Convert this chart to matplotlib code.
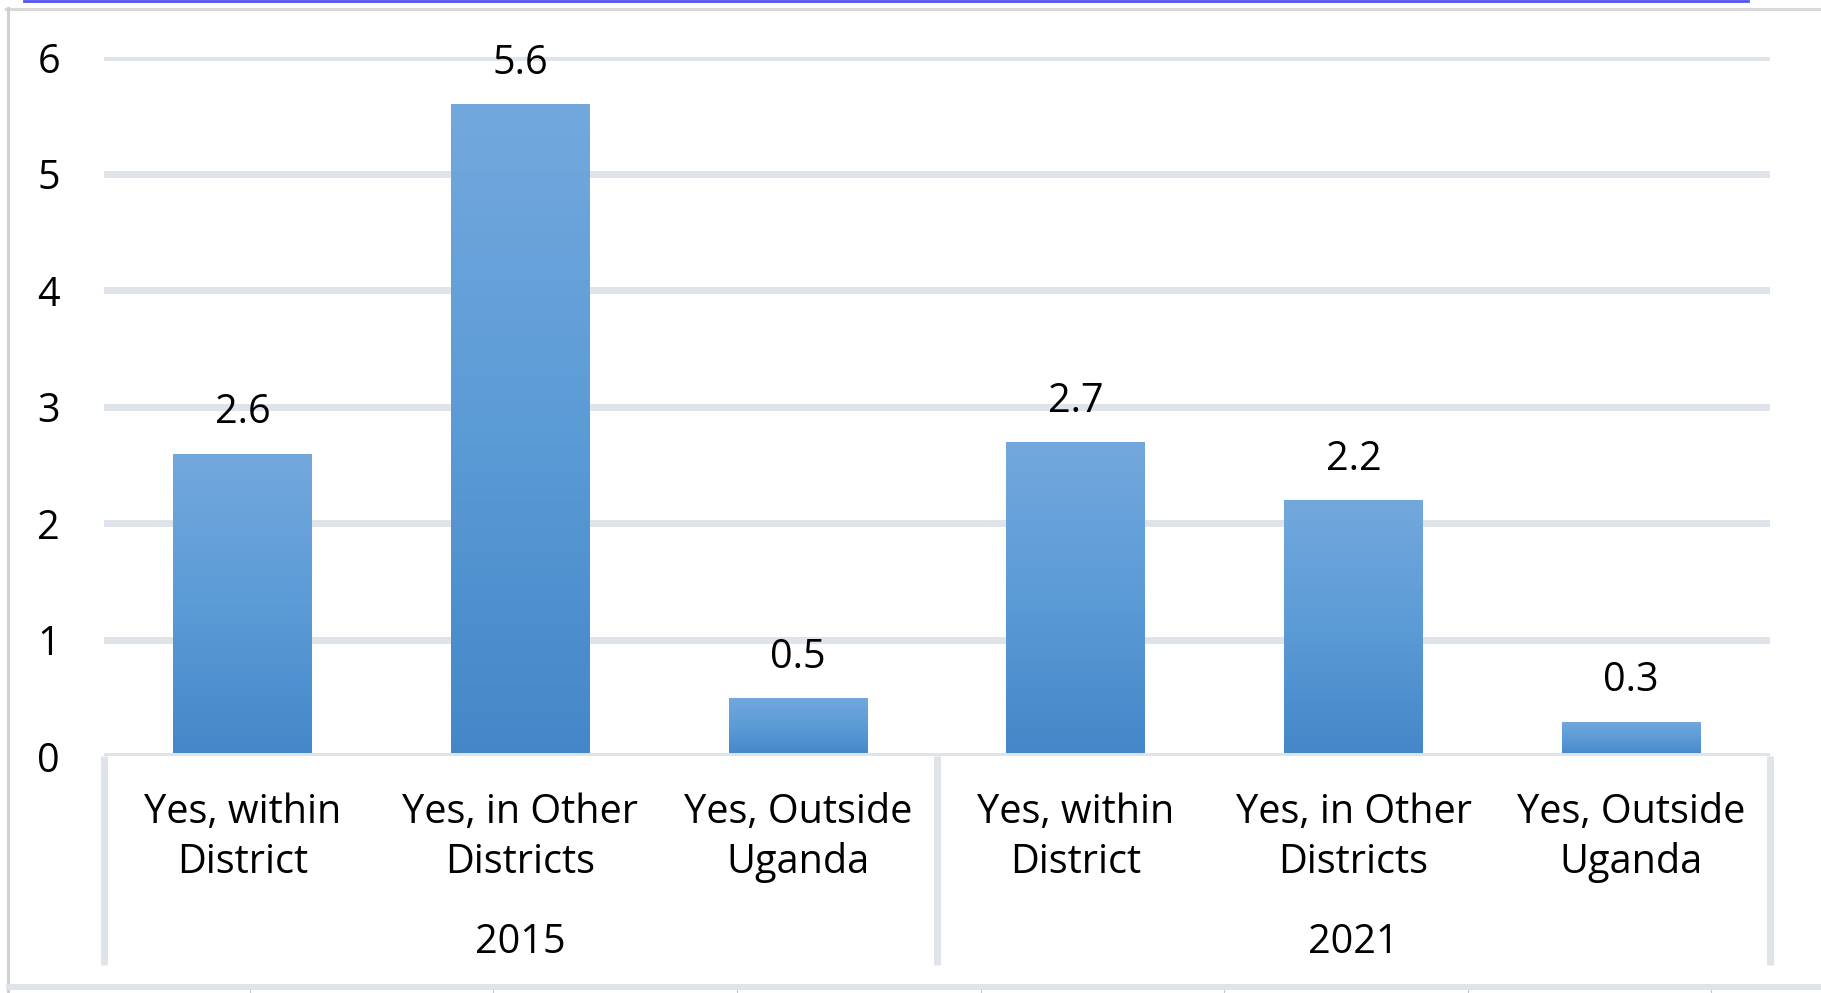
import matplotlib
matplotlib.use("Agg")
import matplotlib.pyplot as plt
import numpy as np
from matplotlib.colors import LinearSegmentedColormap
from matplotlib.lines import Line2D

# chart values
years = ["2015", "2021"]
categories = ["Yes, within\nDistrict", "Yes, in Other\nDistricts", "Yes, Outside\nUganda"]
values_2015 = [2.6, 5.6, 0.5]
values_2021 = [2.7, 2.2, 0.3]
y_ticks = [0, 1, 2, 3, 4, 5, 6]

GRID = "#dfe3ea"
FONT = "Open Sans"
FS = 28.5

plt.rcParams["font.family"] = [FONT, "DejaVu Sans"]

values = values_2015 + values_2021
labels = categories * len(years)
x = np.arange(len(values))

fig = plt.figure(figsize=(18.21, 9.93), dpi=100)
ax = fig.add_axes([0.0571, 0.2382, 0.9149, 0.7039])

# gridlines; the 0 line is the category axis and sits over the bars
for t in y_ticks:
    ax.axhline(t, color=GRID, lw=5, zorder=4 if t == 0 else 1)

# bars with a light-to-dark vertical gradient
cmap = LinearSegmentedColormap.from_list("bar", ["#73a8dd", "#5b9bd6", "#4487c8"])
grad = np.linspace(0, 1, 256).reshape(-1, 1)
bars = ax.bar(x, values, width=0.5, color="#5b9bd5", zorder=2)
for b in bars:
    x0, w, h = b.get_x(), b.get_width(), b.get_height()
    im = ax.imshow(grad, cmap=cmap, aspect="auto", extent=[x0, x0 + w, 0, h],
                   zorder=3, interpolation="bilinear")
    im.set_clip_path(b)

# value labels
for xi, v in zip(x, values):
    ax.annotate(f"{v}", (xi, v), xytext=(0, 21.7), textcoords="offset points",
                ha="center", va="baseline", fontsize=FS, color="black")

ax.set_xlim(-0.5, len(values) - 0.5)
ax.set_ylim(0, 6)
ax.set_yticks(y_ticks)
ax.set_yticklabels([str(t) for t in y_ticks], fontsize=FS)
ax.tick_params(axis="y", length=0, pad=31.7)
ax.set_xticks([])
for s in ax.spines.values():
    s.set_visible(False)

# category labels (two lines) and year labels
for xi, lab in zip(x, labels):
    first, second = lab.split("\n")
    ax.annotate(first, (xi, 0), xytext=(0, -48.1), textcoords="offset points",
                ha="center", va="baseline", fontsize=FS, annotation_clip=False)
    ax.annotate(second, (xi, 0), xytext=(0, -84.1), textcoords="offset points",
                ha="center", va="baseline", fontsize=FS, annotation_clip=False)
n = len(categories)
for gi, yr in enumerate(years):
    cx = gi * n + (n - 1) / 2
    ax.annotate(yr, (cx, 0), xytext=(0, -141.7), textcoords="offset points",
                ha="center", va="baseline", fontsize=FS, annotation_clip=False)

# group separators below the axis
sep_depth = -(965 - 756.5) / 116.5
for gi in range(len(years) + 1):
    ax.plot([gi * n - 0.5] * 2, [0, sep_depth], color=GRID, lw=5,
            clip_on=False, zorder=4, solid_capstyle="butt")

# outer frame of the chart area
W, H = 1821.0, 993.0
def fline(xs, ys, **kw):
    fig.add_artist(Line2D([a / W for a in xs], [1 - b / H for b in ys],
                          transform=fig.transFigure, **kw))

fline([24, 1748], [1, 1], color="#5353f2", lw=2.0)
fline([6, W], [8.5, 8.5], color="#d8d8d8", lw=2.2)
fline([7.5, 7.5], [8, H], color="#d0d0d0", lw=2.2)
fline([9, W], [987, 987], color=GRID, lw=4.3)
for k in range(7):
    xm = 249.7 + k * 243.6
    fline([xm, xm], [990, H], color="#c8c8c8", lw=0.8)

fig.savefig("out.png", dpi=100)
